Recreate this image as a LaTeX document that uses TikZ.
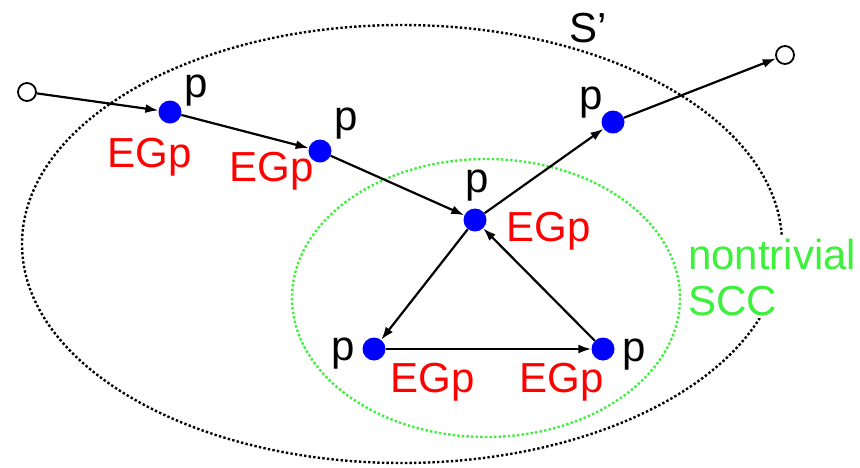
\documentclass[tikz,border=0pt]{standalone}
\usepackage{fontspec}
\setmainfont{Liberation Sans}
\usepackage{xcolor}
\usetikzlibrary{arrows.meta}
\definecolor{mygreen}{RGB}{60,240,60}

\tikzset{
  state/.style={circle, fill=blue, inner sep=0pt, minimum size=23pt},
  open/.style={circle, draw, line width=1.8pt, fill=white, inner sep=0pt, minimum size=18pt},
  lbl/.style={inner sep=0pt, font=\fontsize{42pt}{46pt}\selectfont},
  eg/.style={lbl, text=red},
  edge/.style={line width=2.2pt, -{Latex[length=13pt,width=9pt]}},
  region/.style={line width=2.4pt, dash pattern=on 2.4pt off 2.2pt}
}

\begin{document}
\begin{tikzpicture}[x=1pt,y=-1pt]
\useasboundingbox (0,0) rectangle (860,467);

% the two regions
\draw[region] (402,244) ellipse [x radius=380, y radius=219];
\draw[region, mygreen] (486,298) ellipse [x radius=194, y radius=139];
\node[lbl] (sp) at (588,28) {S’};
\node[lbl, text=mygreen, fill=white, align=left, anchor=west, inner sep=3pt] (scc) at (685,277) {nontrivial\\SCC};

% states
\node[open] (in) at (27,92) {};
\node[state] (a) at (170,112) {};
\node[state] (b) at (320,151) {};
\node[state] (c) at (475,220) {};
\node[state] (d) at (613,122) {};
\node[open] (out) at (785,55) {};
\node[state] (e) at (374,349) {};
\node[state] (f) at (603,349) {};

% labels
\node[lbl] (pa) at (196,91) {p};
\node[eg] (ga) at (150,157) {EGp};
\node[lbl] (pb) at (346,124) {p};
\node[eg] (gb) at (272,171) {EGp};
\node[lbl] (pc) at (477,186) {p};
\node[eg] (gc) at (549,231) {EGp};
\node[lbl] (pd) at (591,103) {p};
\node[lbl] (pe) at (343,354) {p};
\node[eg] (ge) at (433,382) {EGp};
\node[lbl] (pf) at (634,355) {p};
\node[eg] (gf) at (562,382) {EGp};

% transitions
\draw[edge] (in) -- (a);
\draw[edge] (a) -- (b);
\draw[edge] (b) -- (c);
\draw[edge] (c) -- (d);
\draw[edge] (d) -- (out);
\draw[edge] (c) -- (e);
\draw[edge] (e) -- (f);
\draw[edge] (f) -- (c);

\end{tikzpicture}
\end{document}
